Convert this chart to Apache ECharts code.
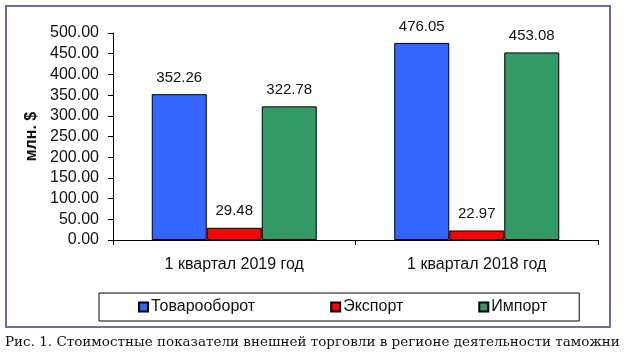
<!DOCTYPE html>
<html>
<head>
<meta charset="utf-8">
<script src="https://cdn.jsdelivr.net/npm/echarts@6/dist/echarts.min.js"></script>
<style>
html,body{margin:0;padding:0;background:#fff;}
#c{width:640px;height:362px;}
</style>
</head>
<body>
<div id="c"></div>
<script>
const categories = ['1 квартал 2019 год', '1 квартал 2018 год'];
const seriesNames = ['Товарооборот', 'Экспорт', 'Импорт'];
const turnover = [352.26, 476.05];
const exportVals = [29.48, 22.97];
const importVals = [322.78, 453.08];
const yTicks = { min: 0, max: 500, interval: 50 };
const yTitle = 'млн. $';
const caption = 'Рис. 1. Стоимостные показатели внешней торговли в регионе деятельности таможни';

const colors = ['#3366ff', '#ff0000', '#339966'];
const font = 'Liberation Sans, Arial, sans-serif';

const chart = echarts.init(document.getElementById('c'), null, {renderer: 'canvas'});

function mk(name, data, color) {
  return {
    name: name,
    type: 'bar',
    data: data,
    barWidth: 55,
    barGap: '0%',
    itemStyle: { color: color, borderColor: '#000', borderWidth: 1 },
    label: {
      show: true, position: 'top', distance: 9,
      fontFamily: font, fontSize: 15, color: '#111',
      formatter: p => p.value.toFixed(2)
    },
    emphasis: { disabled: true }
  };
}

chart.setOption({
  animation: false,
  backgroundColor: '#fff',
  grid: { left: 113, right: 42, top: 33, bottom: 122, containLabel: false },
  xAxis: {
    type: 'category',
    data: categories,
    axisLine: { lineStyle: { color: '#000', width: 1 } },
    axisTick: { show: true, length: 5, lineStyle: { color: '#000' } },
    axisLabel: { fontFamily: font, fontSize: 16, color: '#111', margin: 17 },
    splitLine: { show: false }
  },
  yAxis: {
    type: 'value',
    min: yTicks.min, max: yTicks.max, interval: yTicks.interval,
    name: yTitle,
    nameLocation: 'middle',
    nameRotate: 90,
    nameGap: 73,
    nameTextStyle: { fontFamily: font, fontSize: 16, fontWeight: 'bold', color: '#111' },
    axisLine: { show: true, lineStyle: { color: '#000', width: 1 } },
    axisTick: { show: true, length: 5, lineStyle: { color: '#000' } },
    axisLabel: { fontFamily: font, fontSize: 16, color: '#111', margin: 14,
      formatter: v => v.toFixed(2) },
    splitLine: { show: false }
  },
  legend: {
    data: seriesNames,
    left: 99, top: 293,
    padding: [6, 32, 6, 39],
    borderColor: '#000', borderWidth: 1,
    itemWidth: 9, itemHeight: 9, itemGap: 75,
    icon: 'rect',
    textStyle: { fontFamily: font, fontSize: 16, color: '#111', padding: [0, 0, 0, -2] },
    selectedMode: false
  },
  graphic: [
    { type: 'rect', shape: { x: 6, y: 6, width: 604, height: 321 },
      style: { fill: 'none', stroke: '#6b6bb0', lineWidth: 2 }, silent: true, z: 100 },
    { type: 'text', left: 5, top: 335,
      style: { text: caption, fontFamily: 'DejaVu Serif, serif', fontSize: 13.5, fill: '#111' } }
  ],
  series: [
    mk(seriesNames[0], turnover, colors[0]),
    mk(seriesNames[1], exportVals, colors[1]),
    mk(seriesNames[2], importVals, colors[2])
  ]
});
</script>
</body>
</html>
